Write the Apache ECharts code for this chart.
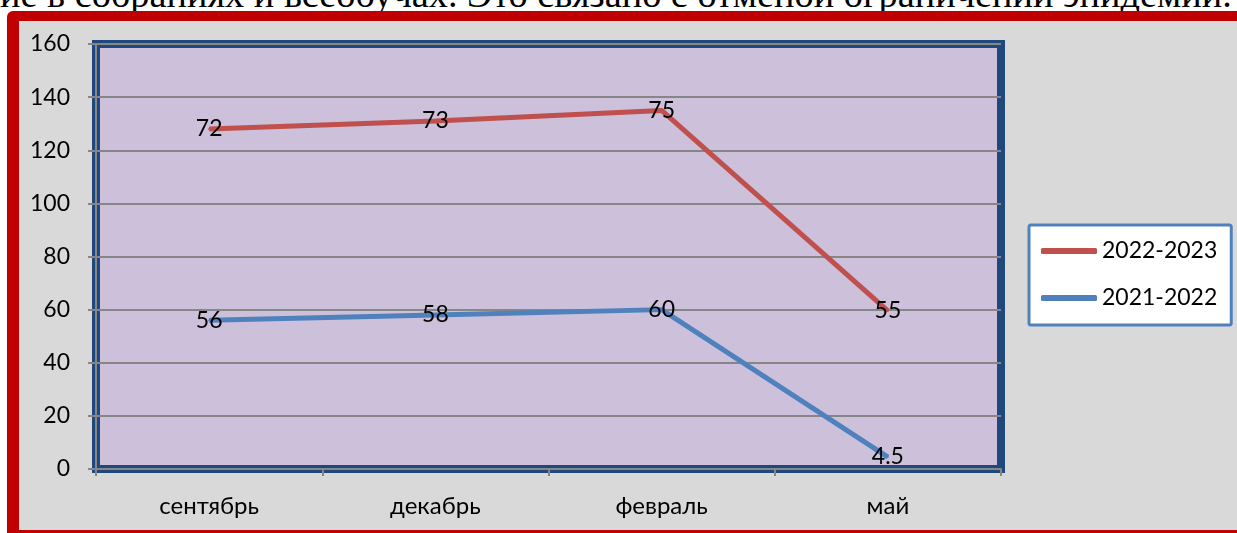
<!DOCTYPE html>
<html>
<head>
<meta charset="utf-8">
<script src="https://cdn.jsdelivr.net/npm/echarts@6/dist/echarts.min.js"></script>
<style>
  html, body { margin: 0; padding: 0; width: 1237px; height: 533px; overflow: hidden; background: #ffffff; }
  #topText { position: absolute; left: 0; white-space: nowrap; font-family: 'Liberation Serif', serif; line-height: 1; color: #000; }
  #frameOuter { position: absolute; left: 7px; top: 11px; width: 1260px; height: 560px; background: #c00000; border-radius: 6px; }
  #frameInner { position: absolute; left: 19px; top: 21px; width: 1240px; height: 509px; background: #d9d9d9; }
  #chart { position: absolute; left: 0; top: 0; width: 1237px; height: 533px; }
</style>
</head>
<body>
<div id="topText">ие в собраниях и всеобучах. Это связано с отменой ограничений эпидемии.</div>
<div id="frameOuter"></div>
<div id="frameInner"></div>
<div id="chart"></div>
<script>
// ---- data ----
const categories = ['сентябрь', 'декабрь', 'февраль', 'май'];
const seriesNames = ['2021-2022', '2022-2023'];
const values2021 = [56, 58, 60, 4.5];
const values2022 = [72, 73, 75, 55];
const yTicks = { min: 0, max: 160, interval: 20 };

// ---- top (cropped) document text: fit to width, baseline at y=7 ----
(function () {
  const el = document.getElementById('topText');
  const targetWidth = 1232;
  let fs = 30;
  el.style.fontSize = fs + 'px';
  const w = el.getBoundingClientRect().width;
  fs = fs * targetWidth / w;
  el.style.fontSize = fs + 'px';
  el.style.top = (7 - 0.8375 * fs) + 'px';
})();

const FONT = 'Lato, "Noto Sans", sans-serif';
const chart = echarts.init(document.getElementById('chart'), null, { renderer: 'canvas' });

const labelCfg = {
  show: true,
  position: 'inside',
  color: '#000',
  fontSize: 23,
  fontFamily: FONT
};

chart.setOption({
  animation: false,
  backgroundColor: 'transparent',
  grid: {
    left: 96, right: 236, top: 44, bottom: 64,
    show: true,
    backgroundColor: '#ccc0da',
    borderColor: '#1f497d',
    borderWidth: 8
  },
  legend: {
    data: ['2022-2023', '2021-2022'],
    orient: 'vertical',
    left: 1029, top: 225,
    padding: [14, 14, 15, 12],
    itemWidth: 56, itemHeight: 6, itemGap: 23,
    icon: 'roundRect',
    backgroundColor: '#ffffff',
    borderColor: '#4f81bd',
    borderWidth: 3,
    borderRadius: 2,
    selectedMode: false,
    textStyle: { fontSize: 23, lineHeight: 24, color: '#000', fontFamily: FONT }
  },
  xAxis: {
    type: 'category',
    data: categories,
    boundaryGap: true,
    axisLine: { show: true, lineStyle: { color: '#868686', width: 2 } },
    axisTick: { show: true, length: 7, lineStyle: { color: '#868686', width: 2 } },
    axisLabel: { color: '#000', fontSize: 24, fontFamily: FONT, margin: 25 },
    splitLine: { show: false }
  },
  yAxis: {
    type: 'value',
    min: yTicks.min, max: yTicks.max, interval: yTicks.interval,
    axisLine: { show: true, lineStyle: { color: '#868686', width: 2 } },
    axisTick: { show: true, length: 8, lineStyle: { color: '#868686', width: 2 } },
    axisLabel: { color: '#000', fontSize: 23, fontFamily: FONT, margin: 26 },
    splitLine: { show: true, lineStyle: { color: '#868686', width: 2 } }
  },
  series: [
    {
      name: seriesNames[0],
      type: 'line',
      stack: 'total',
      data: values2021,
      color: '#4f81bd',
      lineStyle: { width: 5, color: '#4f81bd' },
      symbol: 'circle', symbolSize: 2,
      itemStyle: { color: '#4f81bd' },
      label: labelCfg,
      z: 3
    },
    {
      name: seriesNames[1],
      type: 'line',
      stack: 'total',
      data: values2022,
      color: '#c0504d',
      lineStyle: { width: 5, color: '#c0504d' },
      symbol: 'circle', symbolSize: 2,
      itemStyle: { color: '#c0504d' },
      label: labelCfg,
      z: 3
    }
  ]
});
</script>
</body>
</html>
